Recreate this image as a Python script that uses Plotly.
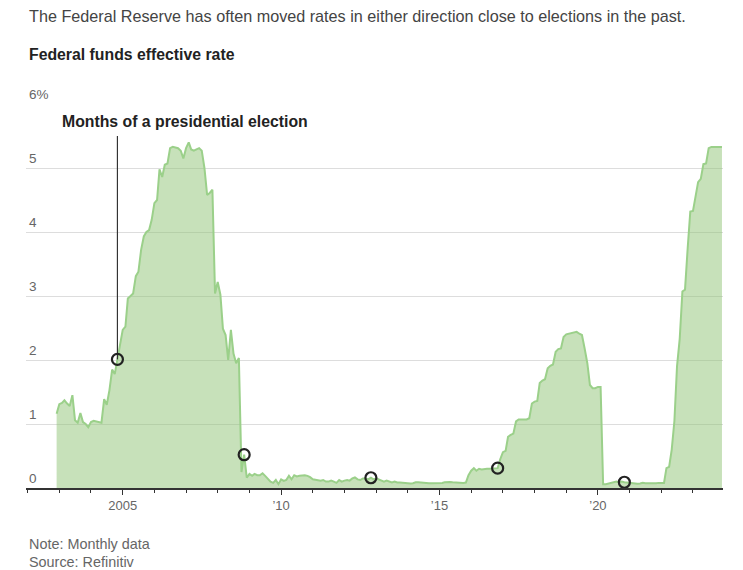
import plotly.graph_objects as go
import pandas as pd

# ---------------- data ----------------
start_month = "2002-12-01"
# Federal funds effective rate, monthly, Dec 2002 .. Dec 2023
rate = [
    1.16,
    # 2003
    1.31, 1.33, 1.37, 1.32, 1.28, 1.45, 1.06, 1.02, 1.17, 1.03, 1.00, 0.95,
    # 2004
    1.03, 1.05, 1.04, 1.03, 1.02, 1.39, 1.30, 1.53, 1.85, 1.78, 2.01, 2.18,
    # 2005
    2.47, 2.52, 2.96, 3.00, 3.04, 3.31, 3.38, 3.72, 3.93, 4.00, 4.03, 4.19,
    # 2006
    4.45, 4.50, 4.98, 4.86, 5.05, 5.07, 5.31, 5.33, 5.32, 5.31, 5.27, 5.15,
    # 2007
    5.31, 5.40, 5.29, 5.27, 5.29, 5.31, 5.27, 5.00, 4.58, 4.61, 4.66, 3.04,
    # 2008
    3.22, 3.02, 2.49, 2.39, 2.00, 2.47, 2.10, 1.95, 2.03, 0.25, 0.52, 0.16,
    # 2009
    0.22, 0.19, 0.22, 0.20, 0.20, 0.23, 0.19, 0.14, 0.10, 0.08, 0.125, 0.06,
    # 2010
    0.135, 0.11, 0.125, 0.19, 0.135, 0.20, 0.18, 0.19, 0.20, 0.20, 0.19, 0.17,
    # 2011
    0.135, 0.125, 0.125, 0.115, 0.125, 0.10, 0.10, 0.115, 0.10, 0.08, 0.125, 0.10,
    # 2012
    0.115, 0.125, 0.115, 0.15, 0.165, 0.135, 0.125, 0.15, 0.15, 0.135, 0.16, 0.135,
    # 2013
    0.15, 0.135, 0.115, 0.10, 0.115, 0.10, 0.085, 0.10, 0.085, 0.085, 0.08, 0.075,
    # 2014
    0.07, 0.07, 0.075, 0.09, 0.09, 0.085, 0.075, 0.08, 0.075, 0.075, 0.075, 0.08,
    # 2015
    0.075, 0.08, 0.09, 0.095, 0.095, 0.09, 0.085, 0.085, 0.08, 0.08, 0.085, 0.20,
    # 2016
    0.27, 0.31, 0.27, 0.30, 0.29, 0.30, 0.30, 0.30, 0.30, 0.31, 0.31, 0.45,
    # 2017
    0.56, 0.58, 0.80, 0.83, 0.85, 1.04, 1.07, 1.07, 1.07, 1.07, 1.09, 1.32,
    # 2018
    1.35, 1.36, 1.64, 1.68, 1.70, 1.87, 1.91, 1.93, 2.13, 2.17, 2.18, 2.36,
    # 2019
    2.40, 2.41, 2.42, 2.43, 2.44, 2.41, 2.39, 2.18, 1.95, 1.61, 1.56, 1.56,
    # 2020
    1.58, 1.58, 0.06, 0.06, 0.07, 0.09, 0.10, 0.10, 0.085, 0.10, 0.09, 0.085,
    # 2021
    0.08, 0.073, 0.065, 0.065, 0.07, 0.08, 0.075, 0.073, 0.073, 0.073, 0.075, 0.08,
    # 2022
    0.08, 0.08, 0.31, 0.33, 0.60, 1.05, 1.90, 2.33, 3.07, 3.10, 3.75, 4.32,
    # 2023
    4.33, 4.60, 4.78, 4.83, 5.06, 5.07, 5.31, 5.33, 5.33, 5.33, 5.33, 5.33,
]
election_months = ["2004-11-01", "2008-11-01", "2012-11-01", "2016-11-01", "2020-11-01"]
label_top = 5.5  # top of the callout line (percent)

ytick_vals = [0, 1, 2, 3, 4, 5, 6]
ytick_text = ["0", "1", "2", "3", "4", "5", "6%"]
xtick_vals = ["2005-01-01", "2010-01-01", "2015-01-01", "2020-01-01"]
xtick_text = ["2005", "\u201910", "\u201915", "\u201920"]
x_range = ["2001-12-13", "2023-12-13"]

title_text = "The Federal Reserve has often moved rates in either direction close to elections in the past."
subtitle_text = "Federal funds effective rate"
callout_text = "Months of a presidential election"
note_text = "Note: Monthly data"
source_text = "Source: Refinitiv"

# ---------------- build ----------------
dates = pd.date_range(start_month, periods=len(rate), freq="MS")
series = pd.Series(rate, index=dates)
election_dates = [pd.Timestamp(d) for d in election_months]
election_rates = [series[d] for d in election_dates]

FONT = "Liberation Sans Narrow, Liberation Sans, Arial, sans-serif"
OFF = 8  # page body margin
W, H = 743 - OFF, 570 - OFF
L, T = 26 - OFF, 104 - OFF
R = W - (723 - OFF)
B = H - (488 - OFF)
PW, PH = W - L - R, H - T - B


def px(x):
    return (x - OFF - L) / PW


def py(y):
    return (H - B - (y - OFF)) / PH


fig = go.Figure()
fig.add_trace(go.Scatter(
    x=dates, y=rate, mode="lines", fill="tozeroy",
    line=dict(color="#9bd08a", width=2),
    fillcolor="rgba(143,195,117,0.5)",
    hoverinfo="skip", showlegend=False,
))
fig.add_trace(go.Scatter(
    x=[election_dates[0], election_dates[0]],
    y=[election_rates[0], label_top],
    mode="lines", line=dict(color="#333333", width=1.2),
    hoverinfo="skip", showlegend=False,
))
fig.add_trace(go.Scatter(
    x=election_dates, y=election_rates, mode="markers",
    marker=dict(symbol="circle-open", size=11, color="#222222",
                line=dict(color="#222222", width=2.2)),
    hoverinfo="skip", showlegend=False,
))

annotations = [
    dict(text=title_text, x=px(27), y=py(16), font=dict(size=16.2, color="#444444")),
    dict(text=subtitle_text, x=px(27), y=py(54), font=dict(size=15.8, color="#222222", weight=700)),
    dict(text=callout_text, x=px(60), y=py(121), font=dict(size=15.8, color="#222222", weight=700)),
    dict(text=note_text, x=px(27), y=py(544), font=dict(size=14.4, color="#666666")),
    dict(text=source_text, x=px(27), y=py(562), font=dict(size=14.4, color="#666666")),
]
for a in annotations:
    a.update(xref="paper", yref="paper", xanchor="left", yanchor="middle",
             showarrow=False)
    a["font"]["family"] = FONT

fig.update_layout(
    width=W, height=H,
    margin=dict(l=L, r=R, t=T, b=B),
    paper_bgcolor="white", plot_bgcolor="white",
    font=dict(family=FONT, color="#666666"),
    annotations=annotations,
    xaxis=dict(
        type="date", range=x_range,
        tickvals=xtick_vals, ticktext=xtick_text,
        ticks="outside", ticklen=5, tickwidth=1.2, tickcolor="#333333",
        showgrid=False, zeroline=False,
        showline=True, linecolor="#333333", linewidth=1.5,
        tickfont=dict(size=13, color="#666666", family=FONT),
        minor=dict(ticks="outside", ticklen=3, tickwidth=1, tickcolor="#333333",
                   tick0="2003-01-01", dtick="M12", showgrid=False),
    ),
    yaxis=dict(
        range=[0, 6], tickvals=ytick_vals, ticktext=ytick_text,
        ticklabelposition="inside top", ticklabeloverflow="allow",
        showgrid=True, gridcolor="#dddddd", gridwidth=1,
        zeroline=False, showline=False, ticks="",
        tickfont=dict(size=13.5, color="#666666", family=FONT),
    ),
)

fig.write_html("out.html")
